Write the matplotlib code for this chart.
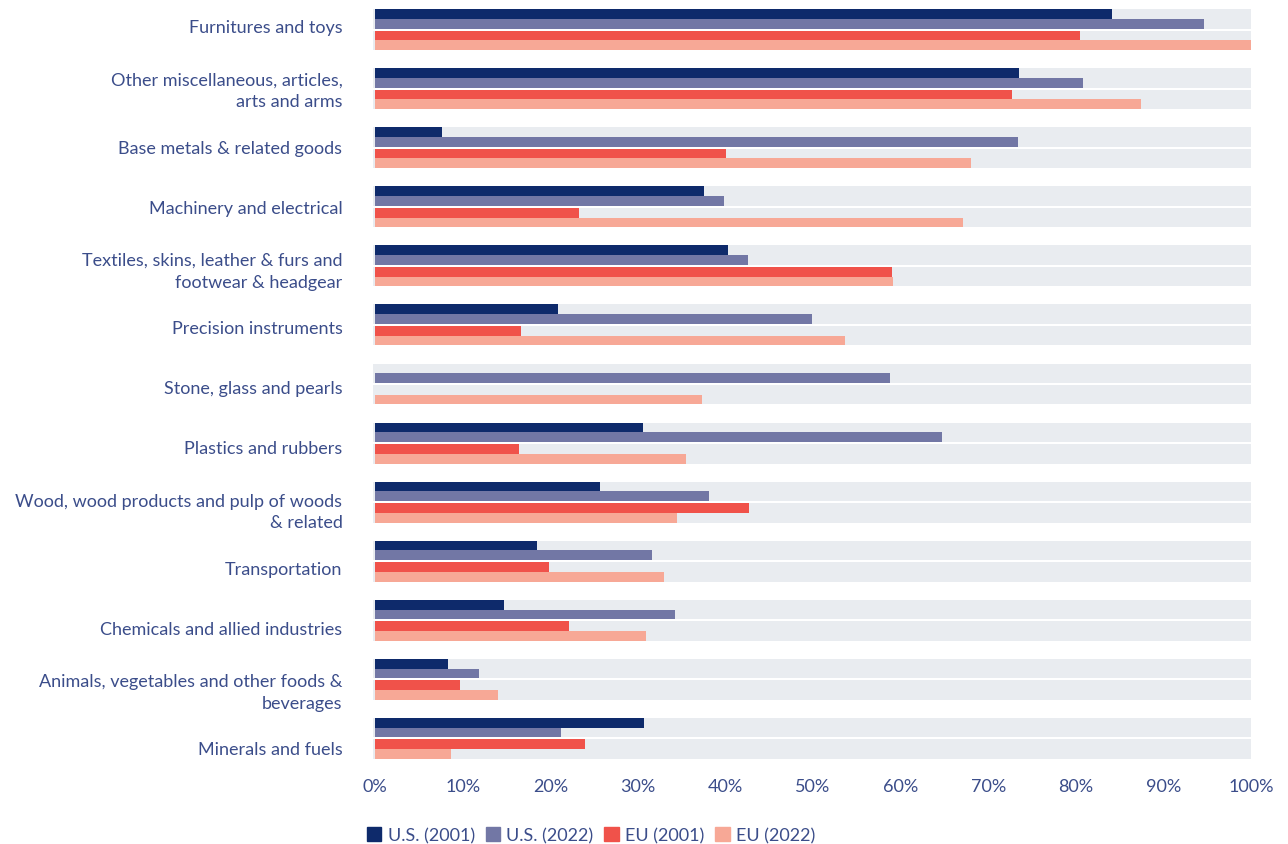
import matplotlib.pyplot as plt
import numpy as np
from matplotlib.patches import Patch

categories = [
    'Furnitures and toys',
    'Other miscellaneous, articles,\narts and arms',
    'Base metals & related goods',
    'Machinery and electrical',
    'Textiles, skins, leather & furs and\nfootwear & headgear',
    'Precision instruments',
    'Stone, glass and pearls',
    'Plastics and rubbers',
    'Wood, wood products and pulp of woods\n& related',
    'Transportation',
    'Chemicals and allied industries',
    'Animals, vegetables and other foods &\nbeverages',
    'Minerals and fuels',
]
us_2001 = [84.1, 73.5, 7.6, 37.6, 40.3, 20.9, 0.0, 30.6, 25.7, 18.5, 14.7, 8.3, 30.7]
us_2022 = [94.6, 80.8, 73.4, 39.8, 42.6, 49.9, 58.8, 64.7, 38.1, 31.6, 34.2, 11.9, 21.2]
eu_2001 = [80.5, 72.7, 40.0, 23.3, 59.0, 16.7, 0.0, 16.4, 42.7, 19.9, 22.1, 9.7, 24.0]
eu_2022 = [100.0, 87.4, 68.0, 67.1, 59.1, 53.7, 37.3, 35.5, 34.5, 33.0, 30.9, 14.0, 8.7]
series_names = ['U.S. (2001)', 'U.S. (2022)', 'EU (2001)', 'EU (2022)']
colors = ['#0e2a6b', '#7277a5', '#f0524a', '#f7a896']
bg = '#e9ecf0'
txt = '#3b4d8a'

plt.rcParams['font.family'] = ['Lato', 'DejaVu Sans']

fig = plt.figure(figsize=(12.88, 8.45), dpi=100)
ax = fig.add_axes([373 / 1288, 1 - 769 / 845, (1251 - 373) / 1288, 768 / 845])

n = len(categories)
y = np.arange(n)  # 0 at top after inversion
h = 0.165
gap = 0.034
# positions of bar centers relative to category center
offs = [-gap / 2 - 1.5 * h, -gap / 2 - 0.5 * h, gap / 2 + 0.5 * h, gap / 2 + 1.5 * h]

# background pairs
ax.barh(y - gap / 2 - h, 100.25, height=2 * h, left=-0.25, color=bg, zorder=1)
ax.barh(y + gap / 2 + h, 100.25, height=2 * h, left=-0.25, color=bg, zorder=1)

for vals, off, c in zip([us_2001, us_2022, eu_2001, eu_2022], offs, colors):
    ax.barh(y + off, vals, height=h, color=c, zorder=2)

ax.set_ylim(n - 0.5, -0.5)
ax.set_xlim(-0.25, 100)
# labels are spaced a bit wider than the bar groups in the original
ax.set_yticks(y * 1.018 - 0.06)
ax.set_yticklabels(categories, fontsize=13, color=txt, linespacing=1.45)
ax.set_xticks(np.arange(0, 101, 10))
ax.set_xticklabels([f'{v}%' for v in range(0, 101, 10)], fontsize=13, color=txt)
ax.tick_params(axis='y', length=0, pad=22)
ax.tick_params(axis='x', length=0, pad=7)
for s in ax.spines.values():
    s.set_visible(False)

handles = [Patch(color=c, label=l) for c, l in zip(colors, series_names)]
leg = fig.legend(handles=handles, loc='center', bbox_to_anchor=(591 / 1288, 1 - 836 / 845),
                 ncol=4, frameon=False, fontsize=13, handlelength=0.8, handleheight=0.8,
                 handletextpad=0.35, columnspacing=0.6)
for t in leg.get_texts():
    t.set_color(txt)

fig.savefig('out.png', dpi=100)
